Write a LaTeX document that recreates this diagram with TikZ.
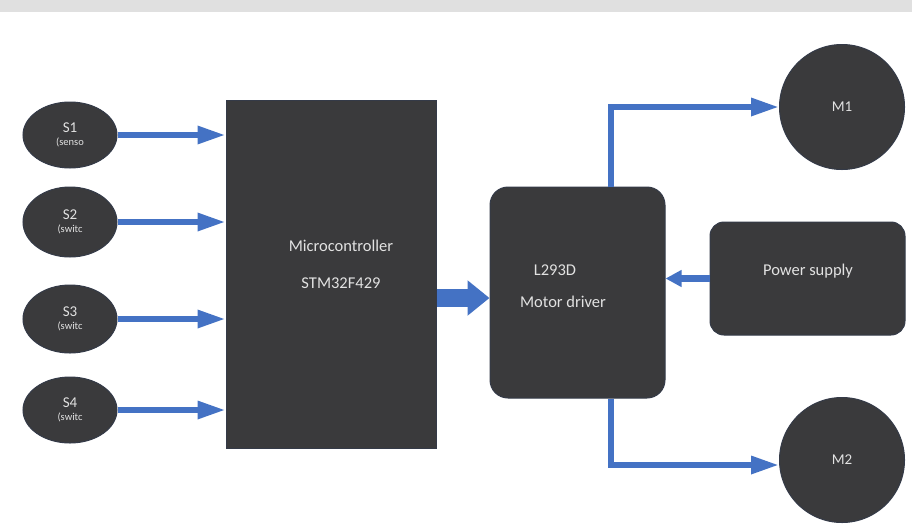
\documentclass[tikz,border=0pt]{standalone}
\usepackage{fontspec}
\setmainfont{Carlito}
\usetikzlibrary{arrows.meta,calc,shapes.geometric}
\definecolor{boxgray}{HTML}{3A3A3C}
\definecolor{boxedge}{HTML}{343A48}
\definecolor{arrblue}{HTML}{4472C4}
\definecolor{txtgray}{HTML}{E2E2E2}
\begin{document}
\begin{tikzpicture}[x=1pt,y=-1pt,
  sensor/.style={ellipse,fill=boxgray,draw=boxedge,line width=1pt,minimum width=94pt,minimum height=66pt,inner sep=0pt,text=txtgray,align=center},
  motor/.style={circle,fill=boxgray,draw=boxedge,line width=1pt,minimum size=125pt,inner sep=0pt,text=txtgray,font=\fontsize{15}{17}\selectfont},
  block/.style={fill=boxgray,draw=boxedge,line width=1pt,inner sep=0pt},
  label/.style={text=txtgray,font=\fontsize{16.5}{19}\selectfont},
  thinarrow/.style={draw=arrblue,line width=6pt,-{Triangle[length=28pt,width=17pt]}},
  bigarrow/.style={draw=arrblue,line width=18pt,-{Triangle[length=22pt,width=34pt]}}
]
\useasboundingbox (0,0) rectangle (912,531);
\fill[white] (0,0) rectangle (912,531);
\fill[black!12] (0,0) rectangle (912,12);
% sensors
\node[sensor] (s1) at (70,135) {\fontsize{15}{15}\selectfont S1\\[1pt]\fontsize{10.5}{10}\selectfont (senso};
\node[sensor,minimum height=70pt] (s2) at (70,222) {\fontsize{15}{15}\selectfont S2\\[1pt]\fontsize{10.5}{10}\selectfont (switc};
\node[sensor,minimum height=68pt] (s3) at (70,319) {\fontsize{15}{15}\selectfont S3\\[1pt]\fontsize{10.5}{10}\selectfont (switc};
\node[sensor] (s4) at (70,410) {\fontsize{15}{15}\selectfont S4\\[1pt]\fontsize{10.5}{10}\selectfont (switc};
% microcontroller
\node[block,minimum width=210pt,minimum height=348pt] (mc) at (331,274) {};
\node[label] (mct) at (341,246) {Microcontroller};
\node[label] (mcs) at (341,283) {STM32F429};
% motor driver
\node[block,rounded corners=18pt,minimum width=175pt,minimum height=211pt] (md) at (577.5,292.5) {};
\node[label] (mdl) at (555,270) {L293D};
\node[label] (mdm) at (563,302) {Motor driver};
% power supply
\node[block,rounded corners=14pt,minimum width=195pt,minimum height=113pt] (ps) at (807.5,278.5) {};
\node[label] (pst) at (808,271) {Power supply};
% motors
\node[motor] (m1) at (842,107) {M1};
\node[motor] (m2) at (842,460) {M2};
% arrows
\draw[thinarrow] (s1.east) -- (mc.west |- s1.east);
\draw[thinarrow] (s2.east) -- (mc.west |- s2.east);
\draw[thinarrow] (s3.east) -- (mc.west |- s3.east);
\draw[thinarrow] (s4.east) -- (mc.west |- s4.east);
\draw[bigarrow] (mc.east |- 0,298) -- (md.west |- 0,298);
\draw[draw=arrblue,line width=7pt,-{Triangle[length=16pt,width=16pt]}] (ps.west) -- (md.east |- ps.west);
\draw[thinarrow] ([xshift=33pt]md.north) |- (m1.west);
\draw[thinarrow] ([xshift=33pt]md.south) |- ([yshift=-5pt]m2.west);
\end{tikzpicture}
\end{document}
